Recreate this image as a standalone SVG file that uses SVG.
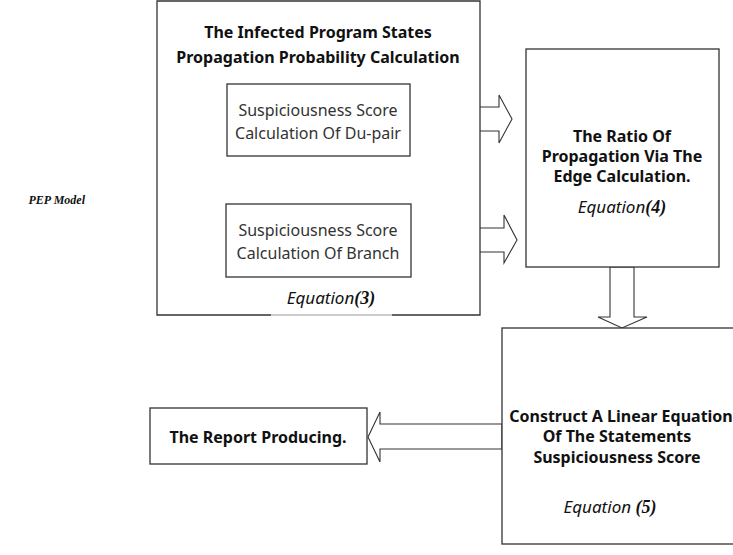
<svg xmlns="http://www.w3.org/2000/svg" width="733" height="555" viewBox="0 0 733 555">
<style>
.box{fill:#fff;stroke:#333;stroke-width:1.3}
.arr{fill:#fff;stroke:#333;stroke-width:1.1}
.b{font-family:"Noto Sans","Open Sans",sans-serif;font-weight:bold;font-size:16px;fill:#111;text-anchor:middle}
.r{font-family:"Noto Sans","Open Sans",sans-serif;font-size:16px;fill:#333;text-anchor:middle}
.eq{font-family:"Noto Sans","Open Sans",sans-serif;font-style:italic;font-size:17px;fill:#111;text-anchor:middle}
.num{font-family:"Liberation Serif",serif;font-style:italic;font-weight:bold;font-size:18px}
.pep{font-family:"Liberation Serif",serif;font-style:italic;font-weight:bold;font-size:12px;fill:#111}
</style>
<text class="pep" x="85" y="204" text-anchor="end">PEP Model</text>
<g id="connectors">
  <polygon class="arr" points="410,107 499,107 499,95 512,119 499,143 499,131 410,131"/>
  <polygon class="arr" points="411,228 504,228 504,215 517,240 504,263 504,252 411,252"/>
  <polygon class="arr" points="610,267 634,267 634,317 647,317 622,328 598,317 610,317"/>
  <polygon class="arr" points="502,424 380,424 380,412 368,437 380,462 380,449 502,449"/>
</g>
<g id="infected">
  <path class="box" fill="none" d="M392,315 H480 V1 H157 V315 H271"/>
  <line x1="271" y1="315" x2="392" y2="315" stroke="#bbb" stroke-width="1.3"/>
  <text class="b" x="318" y="38">The Infected Program States</text>
  <text class="b" x="318" y="63">Propagation Probability Calculation</text>
  <text class="eq" x="331" y="304">Equation<tspan class="num">(3)</tspan></text>
</g>
<g id="dupair">
  <rect class="box" x="227" y="84" width="183" height="72"/>
  <text class="r" x="318" y="116">Suspiciousness Score</text>
  <text class="r" x="318" y="139">Calculation Of Du-pair</text>
</g>
<g id="branch">
  <rect class="box" x="226" y="204" width="185" height="73"/>
  <text class="r" x="318" y="236">Suspiciousness Score</text>
  <text class="r" x="318" y="259">Calculation Of Branch</text>
</g>
<g id="ratio">
  <rect class="box" x="526" y="49" width="193" height="218"/>
  <text class="b" x="622" y="142">The Ratio Of</text>
  <text class="b" x="622" y="162">Propagation Via The</text>
  <text class="b" x="622" y="182">Edge Calculation.</text>
  <text class="eq" x="622" y="213" font-size="19">Equation<tspan class="num" font-size="20">(4)</tspan></text>
</g>
<g id="construct">
  <rect class="box" x="502" y="328" width="240" height="216"/>
  <text class="b" x="621" y="422">Construct A Linear Equation</text>
  <text class="b" x="617" y="442">Of The Statements</text>
  <text class="b" x="617" y="463">Suspiciousness Score</text>
  <text class="eq" x="610" y="513" font-size="19">Equation <tspan class="num" font-size="20">(5)</tspan></text>
</g>
<g id="report">
  <rect class="box" x="150" y="408" width="217" height="56"/>
  <text class="b" x="258" y="443">The Report Producing.</text>
</g>
</svg>
